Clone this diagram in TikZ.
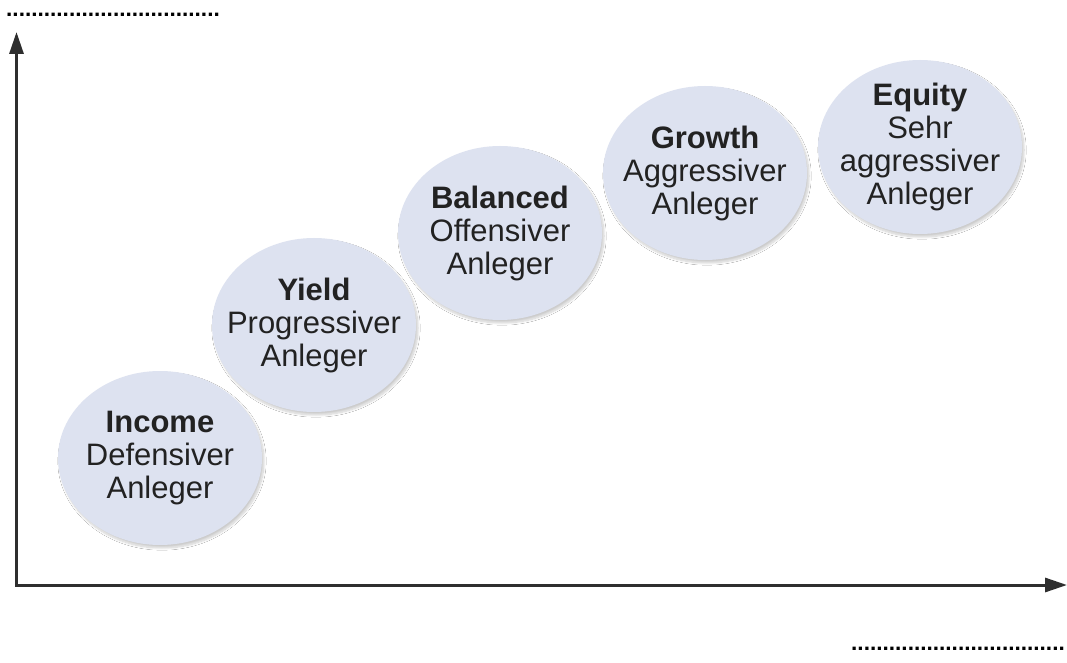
\documentclass[tikz,border=0pt]{standalone}
\usepackage{fontspec}
\setmainfont{Liberation Sans}
\usetikzlibrary{shapes.geometric,shadows.blur,arrows.meta}
\definecolor{bubble}{HTML}{DDE2F0}
\definecolor{axisc}{HTML}{2E2E2E}
\definecolor{txt}{HTML}{222222}
\tikzset{
  bubble/.style={ellipse, fill=bubble, minimum width=204pt, minimum height=174pt,
    inner sep=0pt,
    blur shadow={shadow xshift=2pt, shadow yshift=-3pt, shadow blur steps=12, shadow opacity=20}},
  btext/.style={inner sep=0pt, align=center, text=txt, font=\fontsize{31}{33}\selectfont},
  axis/.style={draw=axisc, line width=3pt, -{Triangle[length=22pt,width=14pt]}},
  dots/.style={inner sep=0pt, anchor=base west, text=black, font=\fontsize{22.6}{24}\selectfont\bfseries}
}
\begin{document}
\begin{tikzpicture}[x=1pt,y=1pt]
\useasboundingbox (0,0) rectangle (1067,662);
\fill[white] (0,0) rectangle (1067,662);
% dotted placeholders
\node[dots] (dtop) at (6,645) {..................................};
\node[dots] (dbot) at (851,12) {..................................};
% axes
\coordinate (o) at (16.5,77);
\coordinate (ytop) at (16.5,630);
\coordinate (xend) at (1067,77);
\draw[axis] (o) -- (ytop);
\draw[axis] (o) -- (xend);
\draw[axisc, line width=3pt] (15,77) -- (18,77);
% bubbles
\node[bubble] (equity) at (920,515) {};
\node[btext] (equityt) at (equity) {\textbf{Equity}\\Sehr\\aggressiver\\Anleger};
\node[bubble] (growth) at (705,489) {};
\node[btext] (growtht) at (growth) {\textbf{Growth}\\Aggressiver\\Anleger};
\node[bubble] (balanced) at (500,429) {};
\node[btext] (balancedt) at (balanced) {\textbf{Balanced}\\Offensiver\\Anleger};
\node[bubble] (yield) at (314,337) {};
\node[btext] (yieldt) at (yield) {\textbf{Yield}\\Progressiver\\Anleger};
\node[bubble] (income) at (160,204) {};
\node[btext] (incomet) at (income) {\textbf{Income}\\Defensiver\\Anleger};
\end{tikzpicture}
\end{document}
